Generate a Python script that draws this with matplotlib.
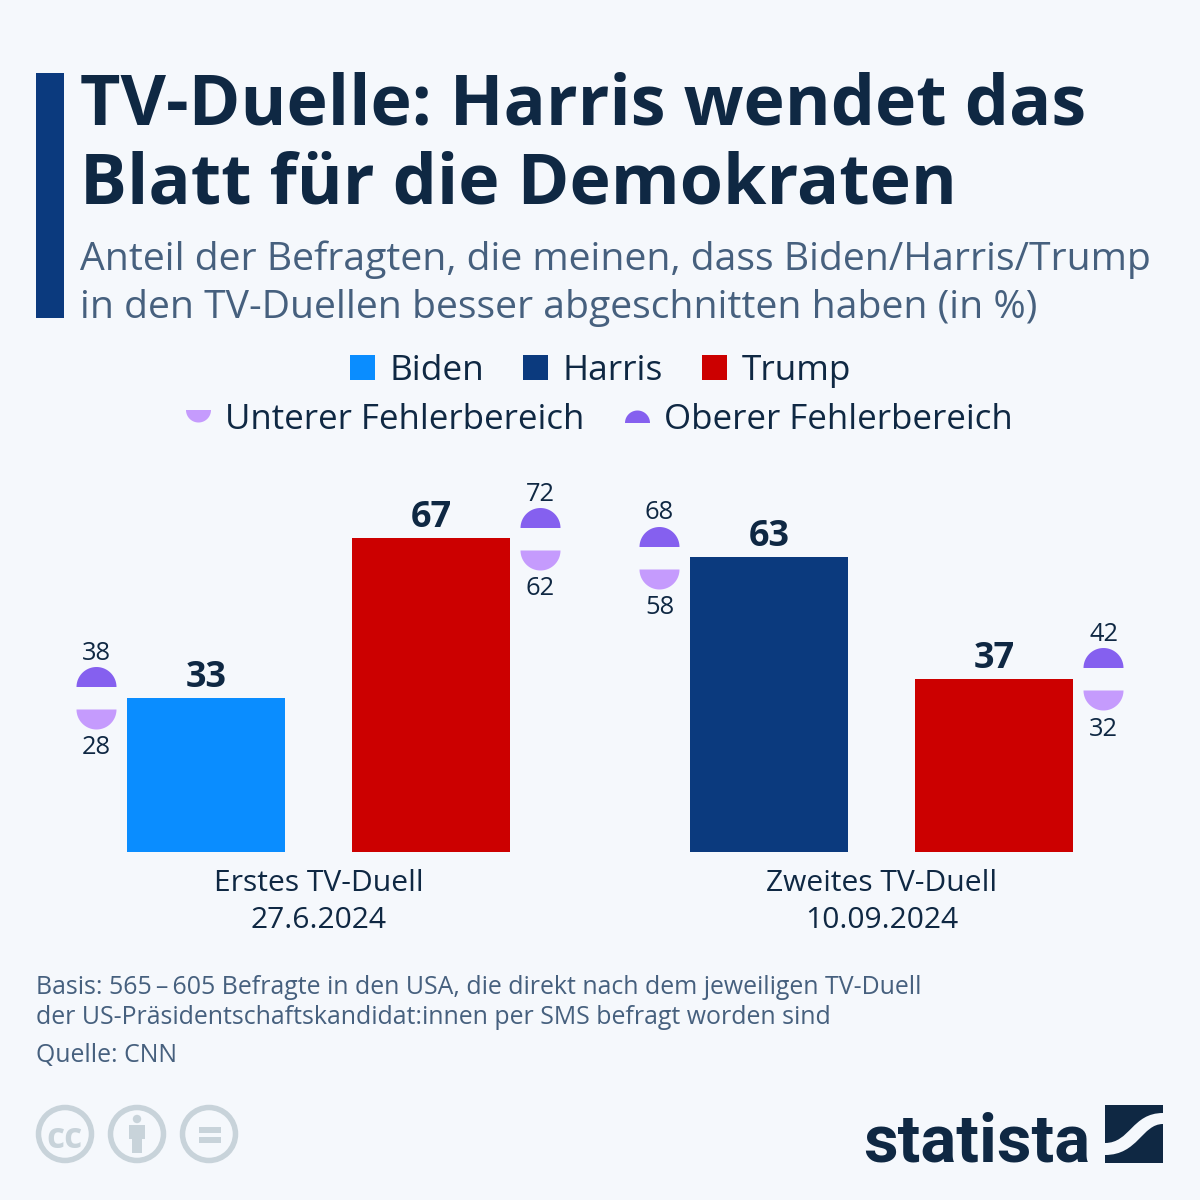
import numpy as np
import matplotlib
matplotlib.use('Agg')
import matplotlib.pyplot as plt
from matplotlib.markers import MarkerStyle
from matplotlib.patches import Rectangle, Circle, PathPatch
from matplotlib.path import Path

# data
duels = ['Erstes TV-Duell\n27.6.2024', 'Zweites TV-Duell\n10.09.2024']
candidates = ['Biden', 'Trump', 'Harris', 'Trump']
group = [0, 0, 1, 1]
side = [-1, 1, -1, 1]
values = [33, 67, 63, 37]
upper = [38, 72, 68, 42]
lower = [28, 62, 58, 32]

BG = '#f5f8fc'
DARK = '#0f2843'
SLATE = '#46607e'
colors = {'Biden': '#0a8dff', 'Harris': '#0b3a7e', 'Trump': '#cc0000'}
UP = '#8560ef'
LOW = '#c59bfd'
ICON = '#c8d3da'

plt.rcParams['font.family'] = ['Open Sans', 'DejaVu Sans']


def px(p):
    return p * 72 / 100


fig = plt.figure(figsize=(12, 12), dpi=100, facecolor=BG)

# overlay in pixel coordinates for title, legend, footer
bg = fig.add_axes([0, 0, 1, 1])
bg.set_xlim(0, 1200)
bg.set_ylim(1200, 0)
bg.axis('off')

# title block
bg.add_patch(Rectangle((36, 73), 28, 245, color='#0b3a7e', lw=0))
bg.text(80, 124.5, 'TV-Duelle: Harris wendet das', fontsize=px(70), fontweight='bold', color=DARK, va='baseline')
bg.text(80, 203.5, 'Blatt für die Demokraten', fontsize=px(70), fontweight='bold', color=DARK, va='baseline')
bg.text(80, 270, 'Anteil der Befragten, die meinen, dass Biden/Harris/Trump', fontsize=px(39.13), color=SLATE, va='baseline')
bg.text(80, 318, 'in den TV-Duellen besser abgeschnitten haben (in %)', fontsize=px(39.13), color=SLATE, va='baseline')

# legend row 1
for x, name in zip([350, 523, 702], ['Biden', 'Harris', 'Trump']):
    bg.add_patch(Rectangle((x, 355), 25, 25, color=colors[name], lw=0))
    bg.text(x + 39.5, 380, name, fontsize=px(35.3), color=DARK, va='baseline')


def half_circle(top, flat, r=20):
    # half disc, y measured upward from the value position
    t = np.linspace(0, np.pi, 40)
    s = 1 if top > flat else -1
    xs = r * np.cos(t)
    ys = flat + s * r * np.sin(t)
    v = np.column_stack([xs, ys])
    return Path(np.vstack([v, v[0]]), closed=True)


# legend row 2
t = np.linspace(0, np.pi, 40)
bg.fill(198.5 + 12.5 * np.cos(t), 410 + 12.5 * np.sin(t), color=LOW, lw=0)
bg.fill(637.5 + 12.5 * np.cos(t), 423 - 12.5 * np.sin(t), color=UP, lw=0)
bg.text(225, 429, 'Unterer Fehlerbereich', fontsize=px(34.9), color=DARK, va='baseline')
bg.text(664, 429, 'Oberer Fehlerbereich', fontsize=px(34.9), color=DARK, va='baseline')

# chart axes: baseline at y=852, 4.68 px per percent, 563 px between duels
ax = fig.add_axes([0, (1200 - 852) / 1200, 1, 412 / 1200])
ax.patch.set_alpha(0)
ax.set_xlim(-318 / 563, (1200 - 318) / 563)
ax.set_ylim(0, 412 / 4.68)
for s in ax.spines.values():
    s.set_visible(False)
ax.set_yticks([])
ax.set_xticks([1 / 563, 1 + 1 / 563], duels)
ax.tick_params(axis='x', length=0, pad=px(17), labelsize=px(30), labelcolor=DARK)
for lab in ax.get_xticklabels():
    lab.set_linespacing(1.37)

bar_off = 112.5 / 563
up_mark = MarkerStyle(half_circle(7.5, -12.5))
low_mark = MarkerStyle(half_circle(-8, 12))

for i in range(4):
    x = group[i] + side[i] * bar_off
    ex = x + side[i] * 109.5 / 563
    ax.bar(x, values[i], width=158 / 563, color=colors[candidates[i]], lw=0)
    ax.annotate(str(values[i]), (x, values[i]), xytext=(px(1), px(11)), textcoords='offset points',
                ha='center', va='baseline', fontsize=px(36), fontweight='bold', color=DARK)
    ax.plot([ex], [upper[i]], marker=up_mark, ms=px(40), color=UP, mew=0, ls='none', clip_on=False)
    ax.plot([ex], [lower[i]], marker=low_mark, ms=px(40), color=LOW, mew=0, ls='none', clip_on=False)
    ax.annotate(str(upper[i]), (ex, upper[i]), xytext=(px(0.5), px(14.5)), textcoords='offset points',
                ha='center', va='baseline', fontsize=px(25.5), color=DARK)
    ax.annotate(str(lower[i]), (ex, lower[i]), xytext=(px(0.5), px(-33.5)), textcoords='offset points',
                ha='center', va='baseline', fontsize=px(25.5), color=DARK)

# footer
bg.text(36, 994, 'Basis: 565\u2009–\u2009605 Befragte in den USA, die direkt nach dem jeweiligen TV-Duell', fontsize=px(24.88), color=SLATE, va='baseline')
bg.text(36, 1024, 'der US-Präsidentschaftskandidat:innen per SMS befragt worden sind', fontsize=px(24.88), color=SLATE, va='baseline')
bg.text(36, 1062, 'Quelle: CNN', fontsize=px(24.88), color=SLATE, va='baseline')

# licence icons
for cx in [65, 137, 209]:
    bg.add_patch(Circle((cx, 1134), 26.5, fill=False, ec=ICON, lw=px(5.5)))
bg.text(65, 1134, 'cc', fontsize=px(35), fontweight='bold', color=ICON, ha='center', va='center_baseline')
bg.add_patch(Circle((137, 1119), 4.2, color=ICON, lw=0))
bg.add_patch(Rectangle((129, 1125), 16, 14, color=ICON, lw=0))
bg.add_patch(Rectangle((132, 1125), 10, 28, color=ICON, lw=0))
bg.add_patch(Rectangle((199, 1127), 22, 5.5, color=ICON, lw=0))
bg.add_patch(Rectangle((199, 1137), 22, 5.5, color=ICON, lw=0))

# statista logo
bg.text(863, 1162, 'statista', fontsize=px(67), fontweight='bold', color=DARK, va='baseline', family='Roboto')
bg.add_patch(Rectangle((1105, 1105), 58, 58, color=DARK, lw=0))
swoosh = Path([(1105, 1143), (1130, 1143), (1132, 1113), (1163, 1113),
               (1163, 1124), (1142, 1124), (1138, 1155), (1105, 1155), (1105, 1143)],
              [Path.MOVETO, Path.CURVE4, Path.CURVE4, Path.CURVE4,
               Path.LINETO, Path.CURVE4, Path.CURVE4, Path.CURVE4, Path.CLOSEPOLY])
bg.add_patch(PathPatch(swoosh, fc=BG, ec='none'))

fig.savefig('out.png', dpi=100, facecolor=BG)
